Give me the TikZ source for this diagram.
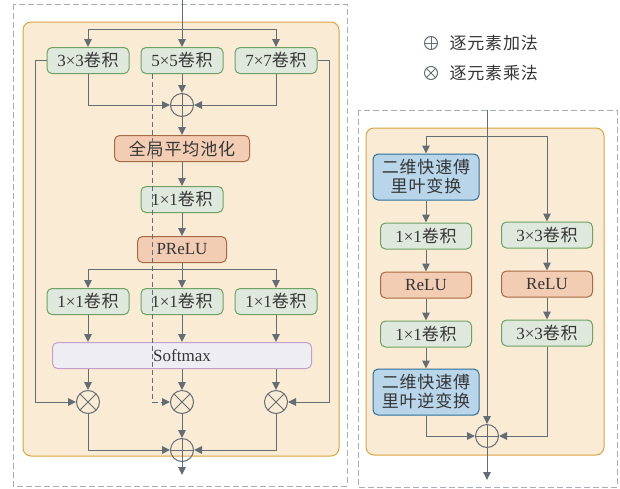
\documentclass[tikz,border=0pt]{standalone}
\usepackage{fontspec}
\setmainfont{Liberation Serif}
\newfontfamily\cjk[LetterSpace=5]{Noto Sans CJK SC}
\usetikzlibrary{arrows.meta,positioning,calc,backgrounds}

\definecolor{linegray}{HTML}{646D73}
\definecolor{textgray}{HTML}{353535}
\definecolor{dashgray}{HTML}{A9AEB3}
\definecolor{panelfill}{HTML}{FAEBD5}
\definecolor{panelline}{HTML}{D9A441}
\definecolor{convfill}{HTML}{DFE8DC}
\definecolor{convline}{HTML}{6DA264}
\definecolor{actfill}{HTML}{F2CDB3}
\definecolor{actline}{HTML}{A86A43}
\definecolor{smfill}{HTML}{EEEDF3}
\definecolor{smline}{HTML}{C39FCF}
\definecolor{fftfill}{HTML}{B8D5EA}
\definecolor{fftline}{HTML}{2D6E98}

\begin{document}
\begin{tikzpicture}[
    x=1pt, y=-1pt,
    font=\fontsize{17}{19}\selectfont,
    every node/.style={text=textgray},
    box/.style={draw, rounded corners=5pt, line width=1pt, inner sep=0pt, minimum height=26pt},
    conv/.style={box, draw=convline, fill=convfill, minimum width=82pt},
    act/.style={box, draw=actline, fill=actfill},
    fourier/.style={box, draw=fftline, fill=fftfill, minimum width=106pt, minimum height=46pt, align=center},
    softbox/.style={box, draw=smline, fill=smfill, minimum width=259pt},
    op/.style={circle, draw=linegray, line width=1pt, minimum size=23pt, inner sep=0pt},
    addop/.style={op, path picture={
        \draw[linegray, line width=1pt]
          (path picture bounding box.north) -- (path picture bounding box.south)
          (path picture bounding box.west) -- (path picture bounding box.east);}},
    mulop/.style={op, path picture={
        \draw[linegray, line width=1pt]
          ($(path picture bounding box.center)!0.707!(path picture bounding box.north east)$) --
          ($(path picture bounding box.center)!0.707!(path picture bounding box.south west)$)
          ($(path picture bounding box.center)!0.707!(path picture bounding box.north west)$) --
          ($(path picture bounding box.center)!0.707!(path picture bounding box.south east)$);}},
    arrow/.style={-{Triangle[length=8pt,width=7.5pt]}, line width=1pt, draw=linegray},
    dasharrow/.style={arrow, dash pattern=on 5pt off 3pt},
    frame/.style={draw=dashgray, line width=1pt, dash pattern=on 6pt off 3pt},
    panel/.style={draw=panelline, fill=panelfill, line width=1pt, rounded corners=8pt}
]
    \useasboundingbox (0,0) rectangle (620,488);

    % outer frames and panels
    \draw[frame] (13,4) rectangle (347,486);
    \draw[frame] (358,110) rectangle (617,487);
    \draw[panel] (23,22) rectangle (339,456);
    \draw[panel] (366,128) rectangle (604,455);

    % multi-scale branch
    \node[conv] (c5) at (182,60.5) {5×5\cjk 卷积};
    \node[conv, left=11pt of c5] (c3) {3×3\cjk 卷积};
    \node[conv, right=11pt of c5] (c7) {7×7\cjk 卷积};
    \node[addop, below=19pt of c5] (add1) {};
    \node[act, minimum width=135pt, below=18pt of add1] (pool) {\cjk 全局平均池化};
    \node[conv, below=24pt of pool] (fc) {1×1\cjk 卷积};
    \node[act, minimum width=89pt, below=23pt of fc] (prelu) {PReLU};
    \node[conv, below=25pt of prelu] (d5) {1×1\cjk 卷积};
    \node[conv, left=11pt of d5] (d3) {1×1\cjk 卷积};
    \node[conv, right=11pt of d5] (d7) {1×1\cjk 卷积};
    \node[softbox, below=27pt of d5] (sm) {Softmax};
    \node[mulop, below=21pt of sm] (mul2) {};
    \node[mulop] (mul1) at (mul2 -| d3) {};
    \node[mulop] (mul3) at (mul2 -| d7) {};
    \node[addop, below=24pt of mul2] (add2) {};

    \coordinate (in) at (182,0);
    \coordinate (split) at (182,29);
    \coordinate (split2) at (182,269);
    \coordinate (out) at (182,475);

    \draw[arrow] (in) -- (c5);
    \draw[arrow] (split) -| (c3);
    \draw[arrow] (split) -| (c7);
    \draw[arrow] (c3) |- (add1);
    \draw[arrow] (c7) |- (add1);
    \draw[arrow] (c5) -- (add1);
    \draw[arrow] (add1) -- (pool);
    \draw[arrow] (pool) -- (fc);
    \draw[arrow] (fc) -- (prelu);
    \draw[arrow] (prelu) -- (d5);
    \draw[arrow] (split2) -| (d3);
    \draw[arrow] (split2) -| (d7);
    \foreach \n in {d3,d5,d7}
        \draw[arrow] (\n) -- (\n |- sm.north);
    \foreach \n in {mul1,mul2,mul3}
        \draw[arrow] (\n |- sm.south) -- (\n);
    \draw[arrow] (c3.west) -- ++(-11,0) |- (mul1);
    \draw[arrow] (c7.east) -- ++(12,0) |- (mul3);
    \draw[arrow] (mul1) |- (add2);
    \draw[arrow] (mul3) |- (add2);
    \draw[arrow] (mul2) -- (add2);
    \draw[arrow] (add2) -- (out);
    \draw[dasharrow] ([xshift=12pt]c5.south west) |- (mul2);

    % frequency branch
    \node[fourier] (fft) at (426,177) {\cjk 二维快速傅\\\cjk 里叶变换};
    \node[conv, minimum width=91pt, below=22pt of fft] (r1) {1×1\cjk 卷积};
    \node[act, minimum width=91pt, below=22pt of r1] (rrelu1) {ReLU};
    \node[conv, minimum width=91pt, below=22pt of rrelu1] (r2) {1×1\cjk 卷积};
    \node[fourier, below=21pt of r2] (ifft) {\cjk 二维快速傅\\\cjk 里叶逆变换};
    \node[conv, minimum width=91pt] (s1) at (547,235) {3×3\cjk 卷积};
    \node[act, minimum width=91pt, below=22pt of s1] (rrelu2) {ReLU};
    \node[conv, minimum width=91pt, below=22pt of rrelu2] (s2) {3×3\cjk 卷积};
    \node[addop] (radd) at (487,436) {};

    \coordinate (rin) at (487,110);
    \coordinate (rsplit) at (487,136);
    \coordinate (rout) at (487,480);

    \draw[arrow] (rin) -- (radd);
    \draw[arrow] (rsplit) -| (fft);
    \draw[arrow] (rsplit) -| (s1);
    \draw[arrow] (fft) -- (r1);
    \draw[arrow] (r1) -- (rrelu1);
    \draw[arrow] (rrelu1) -- (r2);
    \draw[arrow] (r2) -- (ifft);
    \draw[arrow] (s1) -- (rrelu2);
    \draw[arrow] (rrelu2) -- (s2);
    \draw[arrow] (ifft) |- (radd);
    \draw[arrow] (s2) |- (radd);
    \draw[arrow] (radd) -- (rout);

    % legend
    \node[addop, minimum size=13pt] (lgadd) at (431,43) {};
    \node[mulop, minimum size=13pt] (lgmul) at (431,73) {};
    \node[anchor=west] (lgaddtxt) at (446,43) {\cjk 逐元素加法};
    \node[anchor=west] (lgmultxt) at (446,73) {\cjk 逐元素乘法};

\end{tikzpicture}
\end{document}
